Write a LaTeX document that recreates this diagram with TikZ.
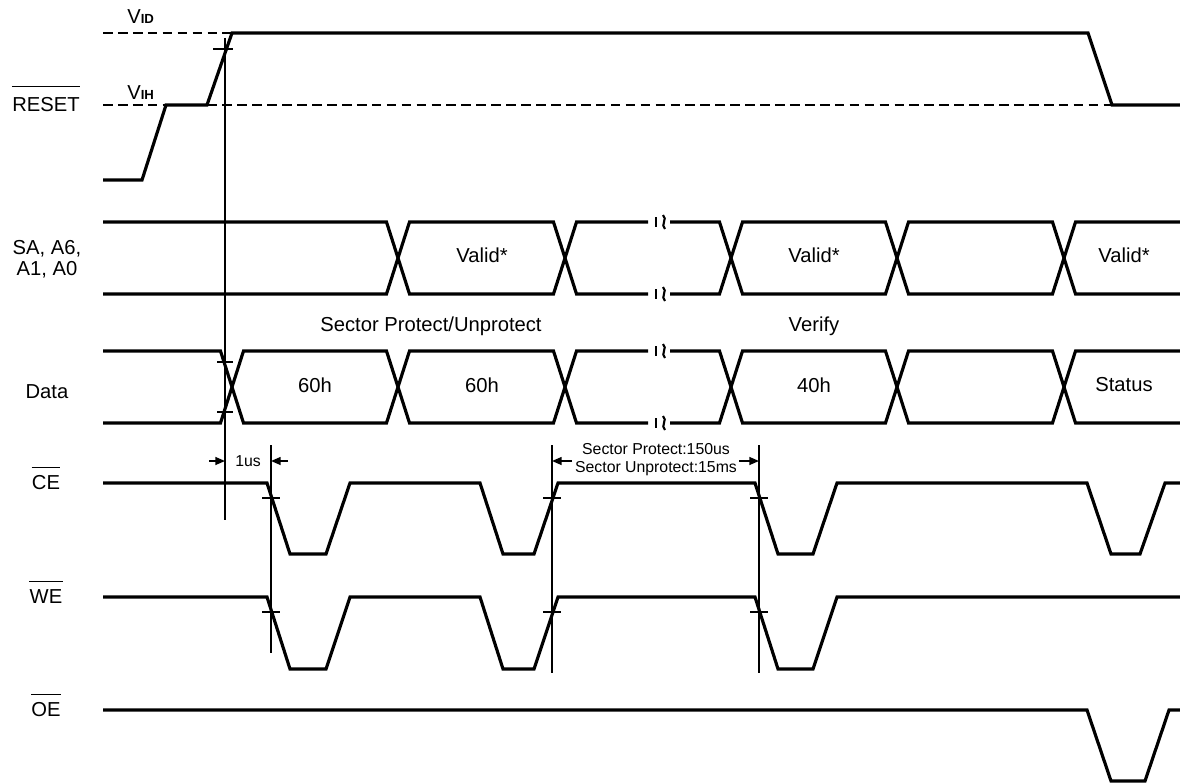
\documentclass[tikz,border=0pt]{standalone}
\usepackage{fontspec}
\setmainfont{Liberation Sans}
\usetikzlibrary{arrows.meta}
\tikzset{
    sig/.style={line width=1.8pt},
    guide/.style={line width=0.9pt},
    bar/.style={line width=0.6pt},
    vref/.style={line width=0.9pt, dash pattern=on 5.5pt off 3pt},
    dim/.style={line width=0.9pt, -{Triangle[length=5.5pt,width=4.5pt]}},
    lbl/.style={font=\fontsize{11.5}{11.9}\selectfont, inner sep=0pt, align=center},
    small/.style={font=\fontsize{9}{10.2}\selectfont, inner sep=0pt, align=center},
}
\begin{document}
\begin{tikzpicture}[x=0.02cm,y=-0.02cm]
        \useasboundingbox (0,0) rectangle (1180,784);
        % signal names
        \node[lbl] (reset) at (46,105) {RESET};
        \draw[bar] ([yshift=6pt]reset.north west) -- ([yshift=6pt]reset.north east);
        \node[lbl] (addr) at (47,259) {SA, A6,\\A1, A0};
        \node[lbl] (data) at (47,392) {Data};
        \foreach \txt/\y in {CE/483,WE/597,OE/710} {
            \node[lbl] (\txt) at (46,\y) {\txt};
            \draw[bar] ([yshift=4.5pt]\txt.north west) -- ([yshift=4.5pt]\txt.north east);
        }
        % RESET
        \node[lbl, anchor=base west] (vid) at (127,24) {V{\fontsize{7.5}{8}\selectfont\bfseries ID}};
        \node[lbl, anchor=base west] (vih) at (127,100) {V{\fontsize{7.5}{8}\selectfont\bfseries IH}};
        \draw[vref] (103,33) -- (232,33);
        \draw[vref] (103,105) -- (1112,105);
        \draw[sig] (103,180) -- (142,180) -- (166,105) -- (207,105) -- (232,33) -- (1088,33) -- (1112,105) -- (1180,105);
        \draw[guide] (225,38) -- (225,520);
        \draw[guide] (213,49) -- (233,49);
        % SA, A6, A1, A0
        \foreach \a/\b in {222/294,294/222}
            \draw[sig] (103,\a) -- (386.5,\a) -- (409.5,\b) -- (553.5,\b) -- (576.5,\a) -- (648,\a)
                (670,\a) -- (719.5,\a) -- (742.5,\b) -- (885.5,\b) -- (908.5,\a) -- (1052.5,\a) -- (1075.5,\b) -- (1180,\b);
        \node[lbl] (valid1) at (482,255) {Valid*};
        \node[lbl] (valid2) at (814,255) {Valid*};
        \node[lbl] (valid3) at (1124,255) {Valid*};
        \node[lbl, anchor=base] (prot) at (431,331) {Sector Protect/Unprotect};
        \node[lbl, anchor=base] (verify) at (814,331) {Verify};
        % Data
        \foreach \a/\b in {351/423,423/351}
            \draw[sig] (103,\a) -- (220.5,\a) -- (243.5,\b) -- (386.5,\b) -- (409.5,\a) -- (553.5,\a) -- (576.5,\b) -- (648,\b)
                (670,\b) -- (719.5,\b) -- (742.5,\a) -- (885.5,\a) -- (908.5,\b) -- (1052.5,\b) -- (1075.5,\a) -- (1180,\a);
        \draw[guide] (217,362) -- (233,362);
        \draw[guide] (217,412) -- (233,412);
        \node[lbl] (d1) at (315,385) {60h};
        \node[lbl] (d2) at (482,385) {60h};
        \node[lbl] (d3) at (814,385) {40h};
        \node[lbl] (d4) at (1124,385) {Status};
        % breaks
        \foreach \y in {222,294,351,423} {
            \draw[bar] (656,\y-5) -- (656,\y+5);
            \draw[line width=1.2pt] (663,\y-7) .. controls (668,\y-3) and (660,\y+3) .. (665,\y+7);
        }
        % CE, WE, OE
        \draw[sig] (103,483) -- (267,483) -- (290,554) -- (326,554) -- (350,483) -- (480,483) -- (503,554) -- (534,554) -- (558,483)
            -- (755,483) -- (778,554) -- (813,554) -- (837,483) -- (1087,483) -- (1111,554) -- (1140,554) -- (1165,483) -- (1180,483);
        \draw[sig] (103,597) -- (267,597) -- (290,669) -- (326,669) -- (350,597) -- (480,597) -- (503,669) -- (534,669) -- (558,597)
            -- (755,597) -- (778,669) -- (813,669) -- (837,597) -- (1180,597);
        \draw[sig] (103,710) -- (1087,710) -- (1111,781) -- (1145,781) -- (1169,710) -- (1180,710);
        % timing marks
        \draw[guide] (271,445) -- (271,653);
        \draw[guide] (552,445) -- (552,673);
        \draw[guide] (759,445) -- (759,673);
        \foreach \x in {271,552,759} {
            \draw[guide] (\x-9,498) -- (\x+9,498);
            \draw[guide] (\x-9,612) -- (\x+9,612);
        }
        \draw[dim] (209,461) -- (225,461);
        \draw[dim] (288,461) -- (271,461);
        \node[small] (t1) at (248,461) {1us};
        \draw[dim] (572,461) -- (552,461);
        \draw[dim] (739,461) -- (759,461);
        \node[small] (t2) at (656,460) {Sector Protect:150us\\Sector Unprotect:15ms};
\end{tikzpicture}
\end{document}
